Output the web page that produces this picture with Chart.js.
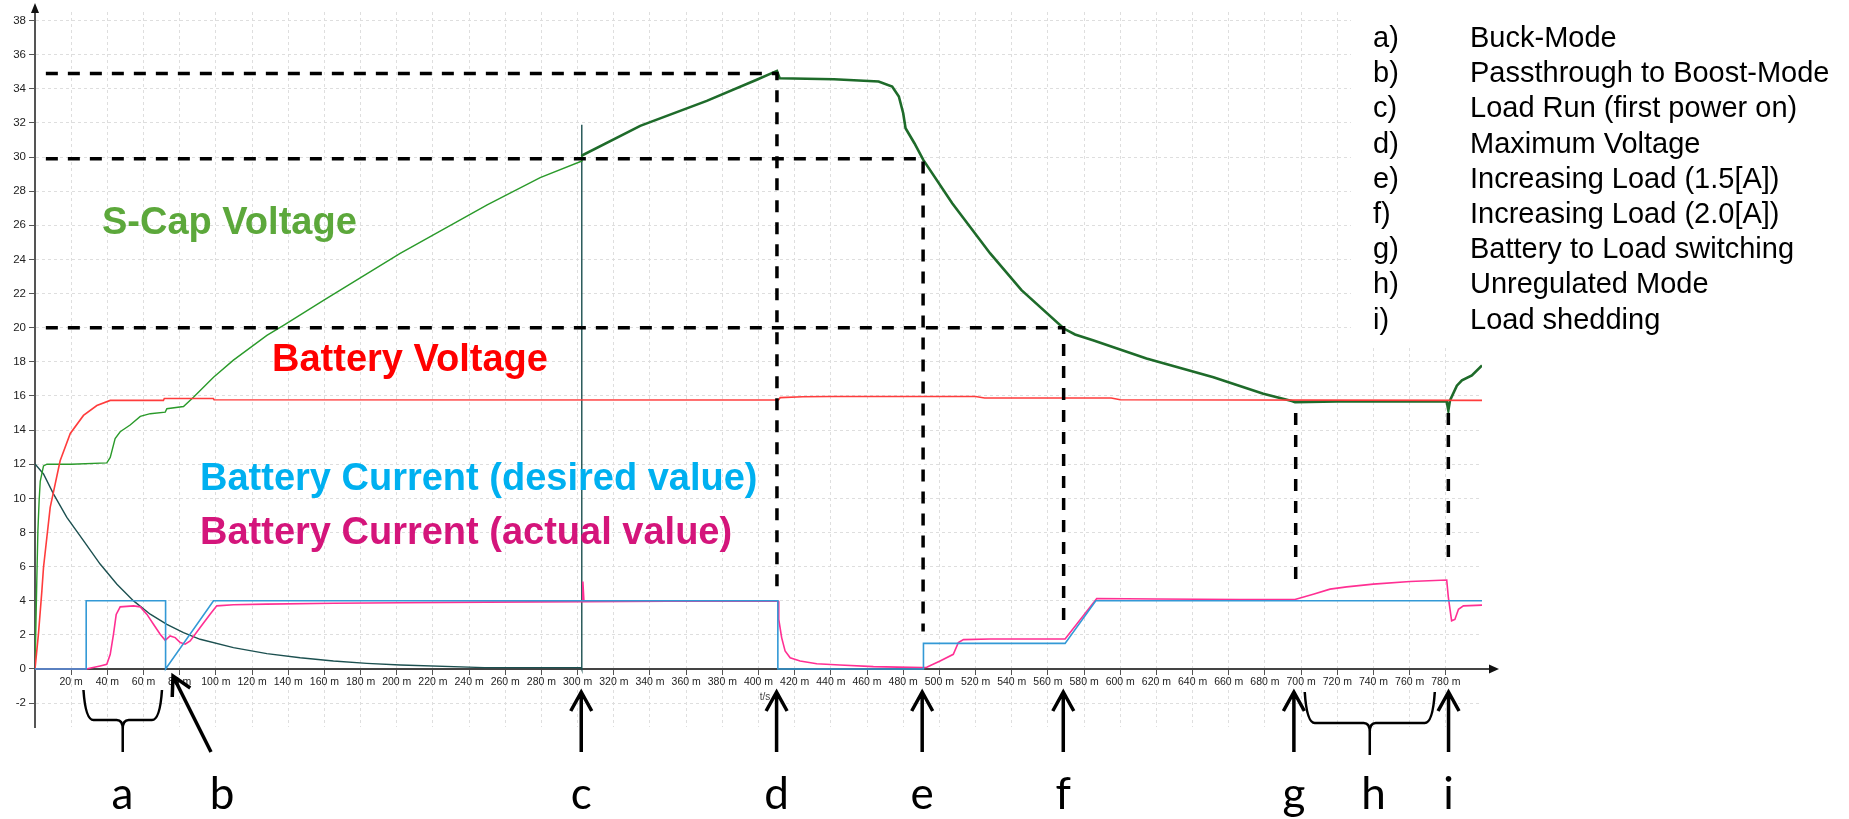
<!DOCTYPE html>
<html>
<head>
<meta charset="utf-8">
<title>S-Cap / Battery measurement</title>
<script src="https://cdn.jsdelivr.net/npm/chart.js@4.4.1/dist/chart.umd.min.js"></script>
<style>
    html, body { margin: 0; padding: 0; background: #fff; }
    #wrap { width: 1849px; height: 819px; }
</style>
</head>
<body>
<div id="wrap"><canvas id="scope" width="1849" height="819"></canvas></div>
<script>
'use strict';

// ---- measured traces (time in m-units, values in V / A) ----

// S-Cap voltage
var scapTime = [0, 0.5, 1.0, 1.6, 2.3, 2.9, 4.7, 6.6, 20, 39.7, 41.6, 44.3, 47.1, 52.6, 58.2, 63.7, 72.0, 72.9, 82.1, 87.6, 98.7, 109.7, 128.2, 137.4, 159.5, 201.9, 250, 279.3, 302.0, 302.3, 302.6, 334.6, 371.4, 399.0, 410.2, 411.7, 441.7, 466.4, 473.9, 477.6, 480.0, 481.3, 486.2, 491.1, 507.1, 528.1, 545.4, 568.8, 575, 584.9, 614.5, 651.5, 679.1, 694.8, 696.6, 720, 760, 780.5, 781.4, 782.3, 786.1, 788.9, 794.4, 800];
var scapVolt = [0, 0, 5.2, 8.1, 9.9, 11.0, 11.9, 12.0, 12.0, 12.08, 12.4, 13.5, 13.9, 14.3, 14.8, 14.96, 15.05, 15.25, 15.38, 15.93, 17.1, 18.1, 19.55, 20.14, 21.6, 24.35, 27.2, 28.8, 29.75, 30.05, 30.1, 31.83, 33.29, 34.53, 35.05, 34.62, 34.56, 34.43, 34.13, 33.55, 32.57, 31.69, 30.81, 29.83, 27.29, 24.35, 22.2, 19.95, 19.6, 19.26, 18.19, 17.1, 16.13, 15.7, 15.64, 15.68, 15.68, 15.68, 15.15, 15.74, 16.6, 16.91, 17.2, 17.79];

// Battery voltage
var batTime = [0, 0.5, 1.9, 3.8, 4.7, 8.4, 13.9, 19.5, 26.8, 34.2, 41.6, 71, 71.5, 98.6, 99, 411, 412, 424.5, 440, 520, 525, 595, 600, 800];
var batVolt = [0, 0, 2.04, 4.58, 5.95, 9.47, 12.2, 13.8, 14.86, 15.44, 15.74, 15.74, 15.85, 15.85, 15.78, 15.76, 15.9, 15.95, 15.97, 15.97, 15.88, 15.88, 15.78, 15.74];

// Battery current, desired value
var setTime = [0, 28.3, 28.3, 72.2, 72.2, 98.7, 410.7, 410.7, 491.2, 491.2, 569.5, 586.5, 800];
var setAmp = [0, 0, 4, 4, 0, 4, 4, 0, 0, 1.5, 1.5, 4, 4];

// Battery current, actual value
var actTime = [0, 28.3, 36, 39.7, 41.6, 43.4, 44.9, 47.1, 54.5, 58.2, 61.9, 65.5, 69.2, 72, 74.7, 77.5, 80.3, 83, 85.8, 91.3, 96.8, 100.5, 109.7, 128, 165, 202, 250, 302.5, 302.9, 303.5, 350, 411, 411.2, 412.8, 414.7, 417.5, 423, 432.2, 445, 463.5, 490.8, 493, 500.4, 507.7, 510.5, 513.3, 528, 569.5, 587, 620, 666.2, 696.6, 706.7, 716, 725.2, 739.9, 760.2, 780.5, 781.4, 783.2, 785, 787, 789.7, 800];
var actAmp = [0, 0, 0.18, 0.27, 0.86, 2.04, 3.2, 3.64, 3.7, 3.64, 3.2, 2.62, 2.04, 1.68, 1.94, 1.84, 1.55, 1.45, 1.64, 2.43, 3.21, 3.7, 3.76, 3.8, 3.85, 3.88, 3.92, 3.95, 5.13, 3.95, 3.97, 3.97, 2.9, 1.84, 1.06, 0.66, 0.47, 0.31, 0.23, 0.14, 0.08, 0.1, 0.47, 0.86, 1.55, 1.72, 1.76, 1.76, 4.13, 4.1, 4.07, 4.07, 4.38, 4.68, 4.81, 4.97, 5.13, 5.21, 4.19, 2.82, 2.9, 3.5, 3.7, 3.74];

// dark decaying trace (ends with the spike at c)
var decayTime = [0, 4.7, 10.2, 17.6, 26.8, 36, 45.3, 54.5, 63.7, 72.9, 82.1, 91.3, 109.7, 128.2, 146.6, 165, 183.5, 202, 248.5, 302.1, 302.2, 302.4];
var decayVal = [12.02, 11.43, 10.26, 8.88, 7.52, 6.15, 4.97, 3.99, 3.21, 2.62, 2.13, 1.74, 1.25, 0.9, 0.66, 0.47, 0.33, 0.23, 0.08, 0.08, 31.9, 0];

// dashed guide lines
var guideDTime = [6, 410.2, 410.2];
var guideDVal = [34.9, 34.9, 4.4];
var guideETime = [6, 491, 491];
var guideEVal = [29.9, 29.9, 2.2];
var guideFTime = [6, 568.7, 568.7];
var guideFVal = [20, 20, 2.3];
var guideGTime = [697, 697];
var guideGVal = [15.0, 5.0];
var guideITime = [781.4, 781.4];
var guideIVal = [15.0, 6.0];

// ticks
var xTickValues = [20, 40, 60, 80, 100, 120, 140, 160, 180, 200, 220, 240, 260, 280, 300, 320, 340, 360, 380, 400, 420, 440, 460, 480, 500, 520, 540, 560, 580, 600, 620, 640, 660, 680, 700, 720, 740, 760, 780];
var yTickValues = [-2, 0, 2, 4, 6, 8, 10, 12, 14, 16, 18, 20, 22, 24, 26, 28, 30, 32, 34, 36, 38];

// legend on the right
var stepLetters = ['a)', 'b)', 'c)', 'd)', 'e)', 'f)', 'g)', 'h)', 'i)'];
var stepNames = ['Buck-Mode', 'Passthrough to Boost-Mode', 'Load Run (first power on)', 'Maximum Voltage', 'Increasing Load (1.5[A])', 'Increasing Load (2.0[A])', 'Battery to Load switching', 'Unregulated Mode', 'Load shedding'];

// event markers under the time axis
var markerNames = ['a', 'b', 'c', 'd', 'e', 'f', 'g', 'h', 'i'];
var markerTimes = [48.4, 103.4, 302, 410, 490.5, 568.5, 696, 740, 781.5];

var pairs = function (xs, ys) {
    return xs.map(function (x, i) { return { x: x, y: ys[i] }; });
};

var trace = function (xs, ys, color, width, extra) {
    var ds = {
        data: pairs(xs, ys),
        borderColor: color,
        borderWidth: width,
        pointRadius: 0,
        fill: false,
        tension: 0
    };
    return Object.assign(ds, extra || {});
};

var guide = function (xs, ys) {
    return trace(xs, ys, '#000', 3.5, { borderDash: [12, 10], borderCapStyle: 'butt' });
};

var fontFamily = '"Liberation Sans", Arial, sans-serif';

var overlay = {
    id: 'overlay',
    afterDraw: function (chart) {
        var ctx = chart.ctx;
        var xs = chart.scales.x;
        var ys = chart.scales.y;
        var area = chart.chartArea;
        var x0 = xs.getPixelForValue(0);
        var y0 = ys.getPixelForValue(0);
        var i;

        ctx.save();

        // axis arrow heads
        ctx.strokeStyle = '#444';
        ctx.lineWidth = 2;
        ctx.beginPath();
        ctx.moveTo(area.right, y0);
        ctx.lineTo(area.right + 8, y0);
        ctx.stroke();
        ctx.fillStyle = '#111';
        ctx.beginPath();
        ctx.moveTo(area.right + 7, y0 - 4.5);
        ctx.lineTo(area.right + 17, y0);
        ctx.lineTo(area.right + 7, y0 + 4.5);
        ctx.closePath();
        ctx.fill();
        ctx.beginPath();
        ctx.moveTo(x0 - 4, area.top + 1);
        ctx.lineTo(x0, area.top - 9);
        ctx.lineTo(x0 + 4, area.top + 1);
        ctx.closePath();
        ctx.fill();

        // axis unit
        ctx.fillStyle = '#444';
        ctx.font = '10px ' + fontFamily;
        ctx.textAlign = 'center';
        ctx.textBaseline = 'middle';
        ctx.fillText('t/s', 765, 697);

        // series captions
        ctx.textAlign = 'left';
        ctx.textBaseline = 'alphabetic';
        ctx.font = 'bold 38px ' + fontFamily;
        ctx.fillStyle = '#5ca83b';
        ctx.fillText('S-Cap Voltage', 102, 234);
        ctx.fillStyle = '#ff0000';
        ctx.fillText('Battery Voltage', 272, 371);
        ctx.fillStyle = '#00b0f0';
        ctx.fillText('Battery Current (desired value)', 200, 490);
        ctx.fillStyle = '#d4157b';
        ctx.fillText('Battery Current (actual value)', 200, 544);

        // legend box
        ctx.fillStyle = '#fff';
        ctx.fillRect(1351, 0, 498, 345);
        ctx.fillStyle = '#000';
        ctx.font = '29px ' + fontFamily;
        for (i = 0; i < stepLetters.length; i++) {
            ctx.fillText(stepLetters[i], 1373, 47 + i * 35.2);
            ctx.fillText(stepNames[i], 1470, 47 + i * 35.2);
        }

        // event arrows and braces
        ctx.strokeStyle = '#000';
        ctx.lineCap = 'butt';
        ctx.lineJoin = 'miter';
        ctx.lineWidth = 3.5;
        var upArrow = function (x) {
            ctx.beginPath();
            ctx.moveTo(x, 752);
            ctx.lineTo(x, 692);
            ctx.moveTo(x - 10.5, 711);
            ctx.lineTo(x, 692);
            ctx.lineTo(x + 10.5, 711);
            ctx.stroke();
        };
        [2, 3, 4, 5, 6, 8].forEach(function (k) {
            upArrow(xs.getPixelForValue(markerTimes[k]));
        });

        // b: slanted arrow
        var tx = 173, ty = 676, sx = 211, sy = 752;
        var ang = Math.atan2(sy - ty, sx - tx);
        ctx.beginPath();
        ctx.moveTo(sx, sy);
        ctx.lineTo(tx, ty);
        ctx.moveTo(tx + 21 * Math.cos(ang - 0.5), ty + 21 * Math.sin(ang - 0.5));
        ctx.lineTo(tx, ty);
        ctx.lineTo(tx + 21 * Math.cos(ang + 0.5), ty + 21 * Math.sin(ang + 0.5));
        ctx.stroke();

        ctx.lineWidth = 2.5;
        var brace = function (xl, xr, yTop, yMid, yTip) {
            var xc = (xl + xr) / 2;
            ctx.beginPath();
            ctx.moveTo(xl, yTop);
            ctx.quadraticCurveTo(xl + 2, yMid, xl + 10, yMid);
            ctx.lineTo(xc - 6, yMid);
            ctx.quadraticCurveTo(xc, yMid, xc, yMid + 9);
            ctx.lineTo(xc, yTip);
            ctx.moveTo(xr, yTop);
            ctx.quadraticCurveTo(xr - 2, yMid, xr - 10, yMid);
            ctx.lineTo(xc + 6, yMid);
            ctx.quadraticCurveTo(xc, yMid, xc, yMid + 9);
            ctx.stroke();
        };
        brace(xs.getPixelForValue(26.8), xs.getPixelForValue(70.2), 690, 720, 752);
        brace(xs.getPixelForValue(702), xs.getPixelForValue(773.9), 692, 723, 755);

        // event letters
        ctx.fillStyle = '#000';
        ctx.font = '44px Lato, "Open Sans", sans-serif';
        ctx.textAlign = 'center';
        for (i = 0; i < markerNames.length; i++) {
            ctx.fillText(markerNames[i], xs.getPixelForValue(markerTimes[i]), 809);
        }

        ctx.restore();
    }
};

var ctx = document.getElementById('scope').getContext('2d');

var scopeChart = new Chart(ctx, {
    type: 'line',
    data: {
        datasets: [
            guide(guideDTime, guideDVal),
            guide(guideETime, guideEVal),
            guide(guideFTime, guideFVal),
            guide(guideGTime, guideGVal),
            guide(guideITime, guideIVal),
            trace(setTime, setAmp, '#3399d6', 1.6),
            trace(actTime, actAmp, '#ff2f93', 1.6),
            trace(batTime, batVolt, '#ff3c3c', 1.6),
            trace(scapTime, scapVolt, '#2a9a2a', 1.5, {
                segment: {
                    borderColor: function (c) { return c.p0.parsed.x >= 302.3 ? '#1e6b2a' : '#2a9a2a'; },
                    borderWidth: function (c) { return c.p0.parsed.x >= 302.3 ? 2.6 : 1.4; }
                }
            }),
            trace(decayTime, decayVal, '#1c5050', 1.4)
        ]
    },
    options: {
        responsive: false,
        animation: false,
        devicePixelRatio: 1,
        layout: { padding: { left: 0, top: 12, right: 367, bottom: 92 } },
        plugins: {
            legend: { display: false },
            tooltip: { enabled: false }
        },
        scales: {
            x: {
                type: 'linear',
                min: 0,
                max: 800,
                position: { y: 0 },
                afterFit: function (scale) { scale.height = 0; },
                afterBuildTicks: function (scale) {
                    scale.ticks = xTickValues.map(function (v) { return { value: v }; });
                },
                ticks: {
                    autoSkip: false,
                    maxRotation: 0,
                    padding: 2,
                    color: '#222',
                    font: { family: fontFamily, size: 10.5 },
                    callback: function (v) { return v + ' m'; }
                },
                grid: { color: '#dedede', lineWidth: 1, tickLength: 5, tickColor: '#555', tickWidth: 1 },
                border: { display: true, color: '#444', width: 2, dash: [3, 3] }
            },
            y: {
                type: 'linear',
                min: -3.4,
                max: 38.5,
                position: 'left',
                afterFit: function (scale) { scale.width = 35; },
                afterBuildTicks: function (scale) {
                    scale.ticks = yTickValues.map(function (v) { return { value: v }; });
                },
                ticks: {
                    padding: 3,
                    color: '#222',
                    font: { family: fontFamily, size: 11.5 }
                },
                grid: { color: '#dedede', lineWidth: 1, tickLength: 6, tickColor: '#555', tickWidth: 1 },
                border: { display: true, color: '#555', width: 2, dash: [3, 3] }
            }
        }
    },
    plugins: [overlay]
});
</script>
</body>
</html>
